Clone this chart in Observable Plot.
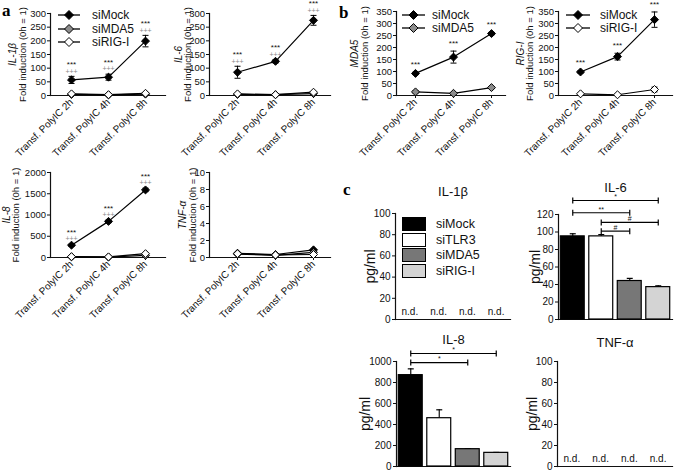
<!DOCTYPE html>
<html><head><meta charset="utf-8">
<script src="https://cdn.jsdelivr.net/npm/d3@7"></script>
<script src="https://cdn.jsdelivr.net/npm/@observablehq/plot@0.6"></script>
<style>
body{margin:0;background:#fff;}
#fig{position:relative;width:676px;height:474px;overflow:hidden;background:#fff;font-family:"Liberation Sans",Arial,Helvetica,sans-serif;}
.letter{position:absolute;font-family:"Liberation Serif","DejaVu Serif",serif;font-weight:bold;font-size:17px;line-height:17px;}
</style></head><body><div id="fig"></div>
<script>
// ---------- data ----------
const timepoints = ["Transf. PolyIC 2h", "Transf. PolyIC 4h", "Transf. PolyIC 8h"];
const lineFill = {"siMock": "#000", "siMDA5": "#8c8c8c", "siRIG-I": "#fff"};

// a: IL-1β
const il1bMock = [57, 67, 199];
const il1bMockErr = [13, 11, 21];
const il1bMDA5 = [4, 2, 5];
const il1bRIGI = [6, 3, 8];
// a: IL-6
const il6Mock = [85, 125, 275];
const il6MockErr = [22, 6, 18];
const il6MDA5 = [4, 3, 7];
const il6RIGI = [6, 3, 12];
// a: IL-8
const il8Mock = [290, 850, 1590];
const il8MockErr = [25, 30, 40];
const il8MDA5 = [15, 10, 50];
const il8RIGI = [20, 15, 90];
// a: TNF-α
const tnfMock = [0.5, 0.35, 0.9];
const tnfMDA5 = [0.4, 0.25, 0.6];
const tnfRIGI = [0.45, 0.3, 0.35];
// b: MDA5
const mda5Mock = [92, 160, 258];
const mda5MockErr = [5, 25, 5];
const mda5KD = [15, 9, 33];
const mda5KDErr = [5, 3, 4];
// b: RIG-I
const rigMock = [98, 162, 316];
const rigMockErr = [5, 14, 32];
const rigKD = [7, 3, 25];
const rigKDErr = [3, 2, 10];

// c: bars
const barGroups = ["siMock", "siTLR3", "siMDA5", "siRIG-I"];
const barFills = ["#000", "#fff", "#777", "#d4d4d4"];
const il6Bar = [95, 95, 44, 37];
const il6BarErr = [3, 2, 3, 1.5];
const il8Bar = [870, 460, 165, 130];
const il8BarErr = [60, 80, 4, 4];
const il6Brackets = [
  {from: 0, to: 3, level: 136, label: "*"},
  {from: 0, to: 2, level: 122, label: "**"},
  {from: 1, to: 3, level: 111, label: "#"},
  {from: 1, to: 2, level: 101, label: "#"}
];
const il8Brackets = [
  {from: 0, to: 3, level: 1076, label: "*"},
  {from: 0, to: 2, level: 990, label: "*"}
];

// ---------- helpers ----------
const fig = document.getElementById("fig");
const FONT = "'Liberation Sans', Arial, Helvetica, sans-serif";
const capSymbol = {draw(ctx) { ctx.moveTo(-3, 0); ctx.lineTo(3, 0); }};
const vcapSymbol = {draw(ctx) { ctx.moveTo(0, -3); ctx.lineTo(0, 3); }};
const plain = d => String(d);

function place(node, left, top) {
  node.style.position = "absolute";
  node.style.left = left + "px";
  node.style.top = top + "px";
  fig.appendChild(node);
}

function linePanel(cfg) {
  const rows = [];
  cfg.series.forEach(s => s.values.forEach((v, i) =>
    rows.push({series: s.name, t: timepoints[i], v, e: s.err ? s.err[i] : 0})));
  const errRows = rows.filter(d => d.e > 0);
  const mock = rows.filter(d => d.series === "siMock");
  const marks = [
    Plot.axisY({ticks: cfg.yTicks, tickFormat: plain, tickSize: 3, tickPadding: 1.5, label: null, fontSize: 9.5}),
    Plot.axisX({tickRotate: -45, tickSize: 3, tickPadding: 2, label: null, fontSize: 10}),
    Plot.frame({anchor: "left", strokeWidth: 1.2}),
    Plot.frame({anchor: "bottom", strokeWidth: 1.2}),
    Plot.line(rows, {x: "t", y: "v", z: "series", stroke: "#000", strokeWidth: 1.2}),
    Plot.ruleX(errRows, {x: "t", y1: d => d.v - d.e, y2: d => d.v + d.e, strokeWidth: 1}),
    Plot.dot(errRows, {x: "t", y: d => d.v + d.e, symbol: capSymbol, fill: "none", stroke: "#000", strokeWidth: 1}),
    Plot.dot(errRows, {x: "t", y: d => d.v - d.e, symbol: capSymbol, fill: "none", stroke: "#000", strokeWidth: 1}),
    Plot.dot(rows, {x: "t", y: "v", symbol: "diamond2", r: 3.6, fill: d => lineFill[d.series], stroke: "#000", strokeWidth: 1}),
    Plot.text([cfg.gene], {frameAnchor: "left", textAnchor: "middle", rotate: -90, dx: cfg.geneDx, fontStyle: "italic", fontSize: 10}),
    Plot.text(["Fold induction (0h = 1)"], {frameAnchor: "left", textAnchor: "middle", rotate: -90, dx: cfg.foldDx, fontSize: 9.5})
  ];
  if (cfg.stars) marks.push(Plot.text(mock, {x: "t", y: d => d.v + d.e, text: () => "***", dy: cfg.plus ? -12 : -8, fontSize: 8}));
  if (cfg.plus) marks.push(Plot.text(mock, {x: "t", y: d => d.v + d.e, text: () => "+++", dy: -5, fontSize: 7, fill: "#888"}));
  const svg = Plot.plot({
    width: cfg.width, height: cfg.height,
    marginLeft: cfg.mL, marginRight: cfg.mR, marginTop: cfg.mT, marginBottom: cfg.mB,
    style: {fontFamily: FONT, fontSize: "10px", background: "transparent", overflow: "visible", color: "#111"},
    x: {type: "point", domain: timepoints, padding: cfg.padding, align: cfg.align, label: null},
    y: {domain: cfg.yDomain, label: null},
    marks
  });
  place(svg, cfg.left, cfg.top);
}

function barPanel(cfg) {
  const rows = barGroups.map((g, i) => ({g, i, v: cfg.values ? cfg.values[i] : 0,
    e: cfg.errs ? cfg.errs[i] : 0, fill: barFills[i]}));
  const marks = [
    Plot.axisY({ticks: cfg.yTicks, tickFormat: plain, tickSize: 3, tickPadding: 2, label: null, fontSize: 10}),
    Plot.frame({anchor: "left", strokeWidth: 1.2}),
    Plot.frame({anchor: "bottom", strokeWidth: 1.2}),
    Plot.text([cfg.title], {frameAnchor: "top", dy: cfg.titleDy, fontSize: 13}),
    Plot.text(["pg/ml"], {frameAnchor: "left", textAnchor: "middle", rotate: -90, dx: cfg.labelDx, fontSize: 14})
  ];
  if (cfg.values) {
    marks.push(
      Plot.ruleX(rows, {x: "i", y1: "v", y2: d => d.v + d.e, strokeWidth: 1.2}),
      Plot.dot(rows, {x: "i", y: d => d.v + d.e, symbol: capSymbol, fill: "none", stroke: "#000", strokeWidth: 1.2}),
      Plot.rectY(rows, {x1: d => d.i - 0.42, x2: d => d.i + 0.42, y1: 0, y2: "v", fill: "fill", stroke: "#000", strokeWidth: 1.2})
    );
  } else {
    marks.push(Plot.text(rows, {x: "i", y: 0, text: () => "n.d.", dy: -8, fontSize: 10}));
  }
  if (cfg.brackets) {
    marks.push(
      Plot.link(cfg.brackets, {x1: "from", x2: "to", y1: "level", y2: "level", stroke: "#000", strokeWidth: 1.2}),
      Plot.dot(cfg.brackets, {x: "from", y: "level", symbol: vcapSymbol, fill: "none", stroke: "#000", strokeWidth: 1.2}),
      Plot.dot(cfg.brackets, {x: "to", y: "level", symbol: vcapSymbol, fill: "none", stroke: "#000", strokeWidth: 1.2}),
      Plot.text(cfg.brackets, {x: d => (d.from + d.to) / 2, y: "level", text: "label", dy: -3.5, fontSize: 7})
    );
  }
  const svg = Plot.plot({
    width: cfg.width, height: cfg.height,
    marginLeft: cfg.mL, marginRight: cfg.mR, marginTop: cfg.mT, marginBottom: cfg.mB,
    style: {fontFamily: FONT, fontSize: "10px", background: "transparent", overflow: "visible", color: "#111"},
    x: {domain: [-0.5, 3.5], axis: null},
    y: {domain: cfg.yDomain, label: null},
    marks
  });
  place(svg, cfg.left, cfg.top);
}

function lineLegend(left, top, items, rowH, lineW, gap) {
  items.forEach((name, k) => {
    const div = document.createElement("div");
    div.style.cssText = `position:absolute;left:${left}px;top:${top + k * rowH - 6}px;height:12px;line-height:12px;display:flex;align-items:center;font:12px ${FONT};white-space:nowrap;color:#111;`;
    const c = lineW / 2;
    div.innerHTML = `<svg width="${lineW}" height="12" style="margin-right:${gap}px;overflow:visible"><line x1="0" y1="6" x2="${lineW}" y2="6" stroke="#000" stroke-width="1.3"/><polygon points="${c},1.5 ${c + 4.5},6 ${c},10.5 ${c - 4.5},6" fill="${lineFill[name]}" stroke="#000"/></svg><span>${name}</span>`;
    fig.appendChild(div);
  });
}

function barLegend(left, top, rowH) {
  barGroups.forEach((name, k) => {
    const div = document.createElement("div");
    div.style.cssText = `position:absolute;left:${left}px;top:${top + k * rowH}px;height:14px;display:flex;align-items:center;font:12.5px ${FONT};white-space:nowrap;color:#111;`;
    div.innerHTML = `<div style="width:22px;height:12px;background:${barFills[k]};border:1.2px solid #000;margin-right:10px"></div><span>${name}</span>`;
    fig.appendChild(div);
  });
}

function letter(ch, left, top) {
  const d = document.createElement("div");
  d.className = "letter";
  d.textContent = ch;
  d.style.left = left + "px";
  d.style.top = top + "px";
  fig.appendChild(d);
}

// ---------- panel a ----------
const ticks300 = d3.range(0, 301, 50);
linePanel({left: 0, top: 0, width: 168, height: 160, mL: 50, mR: 3, mT: 13, mB: 65,
  padding: 0.535, align: 0.5, yDomain: [0, 300], yTicks: ticks300, gene: "IL-1β", geneDx: -38, foldDx: -28,
  stars: true, plus: true,
  series: [{name: "siMock", values: il1bMock, err: il1bMockErr}, {name: "siMDA5", values: il1bMDA5}, {name: "siRIG-I", values: il1bRIGI}]});
linePanel({left: 168, top: 0, width: 165, height: 160, mL: 41, mR: 3, mT: 13, mB: 65,
  padding: 0.57, align: 0.615, yDomain: [0, 300], yTicks: ticks300, gene: "IL-6", geneDx: -31, foldDx: -22,
  stars: true, plus: true,
  series: [{name: "siMock", values: il6Mock, err: il6MockErr}, {name: "siMDA5", values: il6MDA5}, {name: "siRIG-I", values: il6RIGI}]});
linePanel({left: 0, top: 160, width: 168, height: 165, mL: 50, mR: 3, mT: 12, mB: 68,
  padding: 0.535, align: 0.5, yDomain: [0, 2000], yTicks: d3.range(0, 2001, 500), gene: "IL-8", geneDx: -44, foldDx: -35,
  stars: true, plus: true,
  series: [{name: "siMock", values: il8Mock, err: il8MockErr}, {name: "siMDA5", values: il8MDA5}, {name: "siRIG-I", values: il8RIGI}]});
linePanel({left: 168, top: 160, width: 165, height: 165, mL: 41, mR: 3, mT: 12, mB: 68,
  padding: 0.57, align: 0.615, yDomain: [0, 10], yTicks: d3.range(0, 11, 2), gene: "TNF-α", geneDx: -27, foldDx: -17,
  stars: false, plus: false,
  series: [{name: "siMock", values: tnfMock}, {name: "siMDA5", values: tnfMDA5}, {name: "siRIG-I", values: tnfRIGI}]});
lineLegend(58, 15, ["siMock", "siMDA5", "siRIG-I"], 13.5, 22, 12);

// ---------- panel b ----------
const ticks350 = d3.range(0, 351, 50);
linePanel({left: 340, top: 0, width: 168, height: 160, mL: 56, mR: 3, mT: 11, mB: 65,
  padding: 0.4, align: 0.58, yDomain: [0, 350], yTicks: ticks350, gene: "MDA5", geneDx: -42, foldDx: -32,
  stars: true, plus: false,
  series: [{name: "siMock", values: mda5Mock, err: mda5MockErr}, {name: "siMDA5", values: mda5KD, err: mda5KDErr}]});
linePanel({left: 508, top: 0, width: 168, height: 160, mL: 50, mR: 4, mT: 11, mB: 65,
  padding: 0.52, align: 0.54, yDomain: [0, 350], yTicks: ticks350, gene: "RIG-I", geneDx: -38, foldDx: -29,
  stars: true, plus: false,
  series: [{name: "siMock", values: rigMock, err: rigMockErr}, {name: "siRIG-I", values: rigKD, err: rigKDErr}]});
lineLegend(402, 15, ["siMock", "siMDA5"], 12.5, 23, 7);
lineLegend(566, 15, ["siMock", "siRIG-I"], 12.5, 24, 10);

// ---------- panel c ----------
barPanel({left: 340, top: 175, width: 175, height: 150, mL: 55, mR: 5, mT: 38, mB: 6,
  yDomain: [0, 100], yTicks: d3.range(0, 101, 20), title: "IL-1β", titleDy: -27, labelDx: -25});
barPanel({left: 500, top: 175, width: 177, height: 150, mL: 58, mR: 5, mT: 39, mB: 6,
  yDomain: [0, 120], yTicks: d3.range(0, 121, 20), title: "IL-6", titleDy: -32, labelDx: -23,
  values: il6Bar, errs: il6BarErr, brackets: il6Brackets});
barPanel({left: 340, top: 325, width: 175, height: 147, mL: 56, mR: 5, mT: 36, mB: 6,
  yDomain: [0, 1000], yTicks: d3.range(0, 1001, 200), title: "IL-8", titleDy: -27, labelDx: -31,
  values: il8Bar, errs: il8BarErr, brackets: il8Brackets});
barPanel({left: 500, top: 325, width: 177, height: 147, mL: 57, mR: 5, mT: 36, mB: 6,
  yDomain: [0, 100], yTicks: d3.range(0, 101, 20), title: "TNF-α", titleDy: -24, labelDx: -25});
barLegend(402, 217, 15.6);

letter("a", 2, 2);
letter("b", 339, 4);
letter("c", 343, 181);
</script></body></html>
